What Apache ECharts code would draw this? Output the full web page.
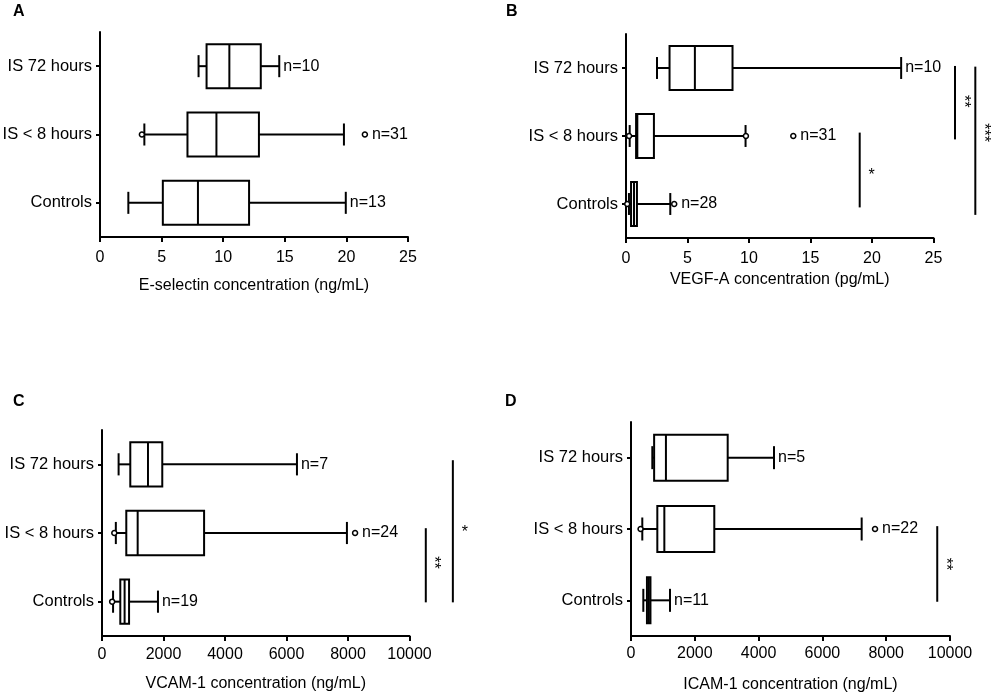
<!DOCTYPE html>
<html>
<head>
<meta charset="utf-8">
<title>Adhesion molecules box plots</title>
<script src="https://cdn.jsdelivr.net/npm/echarts@6/dist/echarts.min.js"></script>
<style>
html, body { margin: 0; padding: 0; background: #fff; }
#chart { width: 995px; height: 695px; }
</style>
</head>
<body>
<div id="chart"></div>
<script>
// categories, bottom to top
var categories = ['Controls', 'IS < 8 hours', 'IS 72 hours'];

// each box: [low whisker, Q1, median, Q3, high whisker], same order as categories
var eSelectinBoxes = [[2.3, 5.1, 7.95, 12.1, 19.95], [3.6, 7.1, 9.45, 12.9, 19.8], [8.0, 8.65, 10.5, 13.05, 14.55]];
var eSelectinOutliers = [[3.4, 1], [21.5, 1]];
var eSelectinN = [13, 31, 10];
var eSelectinTicks = [0, 5, 10, 15, 20, 25];

var vegfBoxes = [[0.24, 0.41, 0.65, 0.89, 3.6], [0.3, 0.82, 0.92, 2.27, 9.72], [2.52, 3.54, 5.6, 8.66, 22.37]];
var vegfOutliers = [[0.1, 0], [3.92, 0], [0.25, 1], [9.75, 1], [13.6, 1]];
var vegfN = [28, 31, 10];
var vegfTicks = [0, 5, 10, 15, 20, 25];
// significance bars: [x value, from category, to category, label at category]
var vegfSig = [[19.0, -0.05, 1.05, 0.48], [26.75, 0.95, 2.03, 1.51], [28.4, -0.16, 2.02, 1.05]];
var vegfSigText = ['*', '**', '***'];

var vcamBoxes = [[360, 595, 735, 880, 1820], [450, 790, 1160, 3320, 7965], [540, 920, 1495, 1960, 6340]];
var vcamOutliers = [[330, 0], [400, 1], [8230, 1]];
var vcamN = [19, 24, 7];
var vcamTicks = [0, 2000, 4000, 6000, 8000, 10000];
var vcamSig = [[10530, -0.01, 1.07, 0.57], [11410, -0.01, 2.06, 1.06]];
var vcamSigText = ['**', '*'];

var icamBoxes = [[386, 500, 560, 610, 1223], [354, 825, 1045, 2611, 7231], [668, 725, 1095, 3031, 4483]];
var icamOutliers = [[300, 1], [7650, 1]];
var icamN = [11, 22, 5];
var icamTicks = [0, 2000, 4000, 6000, 8000, 10000];
var icamSig = [[9600, -0.02, 1.04, 0.51]];
var icamSigText = ['**'];

var FONT = '"Liberation Sans", Arial, Helvetica, sans-serif';

var panels = [
    { letter: 'A', letterPos: [13, 4], grid: { left: 100, top: 32, width: 308, height: 205 },
      name: 'E-selectin concentration (ng/mL)', nameGap: 41, margin: 13,
      boxes: eSelectinBoxes, outliers: eSelectinOutliers, n: eSelectinN, ticks: eSelectinTicks, sig: [], sigText: [] },
    { letter: 'B', letterPos: [506, 4], grid: { left: 626, top: 34, width: 307.5, height: 204 },
      name: 'VEGF-A concentration (pg/mL)', nameGap: 34, margin: 13,
      boxes: vegfBoxes, outliers: vegfOutliers, n: vegfN, ticks: vegfTicks, sig: vegfSig, sigText: vegfSigText },
    { letter: 'C', letterPos: [13, 394], grid: { left: 102, top: 430, width: 307.5, height: 206 },
      name: 'VCAM-1 concentration (ng/mL)', nameGap: 40, margin: 10.5,
      boxes: vcamBoxes, outliers: vcamOutliers, n: vcamN, ticks: vcamTicks, sig: vcamSig, sigText: vcamSigText },
    { letter: 'D', letterPos: [505, 394], grid: { left: 631, top: 422, width: 319, height: 214 },
      name: 'ICAM-1 concentration (ng/mL)', nameGap: 41, margin: 10,
      boxes: icamBoxes, outliers: icamOutliers, n: icamN, ticks: icamTicks, sig: icamSig, sigText: icamSigText }
];

var LINE = { stroke: '#000', lineWidth: 2, fill: null };

//box, whiskers and n= label for one category
function boxRender(params, api) {
    var cat = api.value(0);
    var low = api.coord([api.value(1), cat]);
    var q1 = api.coord([api.value(2), cat]);
    var med = api.coord([api.value(3), cat]);
    var q3 = api.coord([api.value(4), cat]);
    var high = api.coord([api.value(5), cat]);
    var anchor = api.coord([api.value(6), cat]);
    var gap = api.value(6) > api.value(5) ? 7 : 4;
    var band = api.size([0, 1])[1];
    var h = band * 0.645;
    var cap = h / 2;
    var cy = low[1];
    return {
        type: 'group',
        children: [
            { type: 'line', shape: { x1: low[0], y1: cy, x2: q1[0], y2: cy }, style: LINE },
            { type: 'line', shape: { x1: q3[0], y1: cy, x2: high[0], y2: cy }, style: LINE },
            { type: 'rect', shape: { x: q1[0], y: cy - h / 2, width: q3[0] - q1[0], height: h },
              style: { stroke: '#000', lineWidth: 2, fill: '#fff' } },
            { type: 'line', shape: { x1: med[0], y1: cy - h / 2, x2: med[0], y2: cy + h / 2 }, style: LINE },
            { type: 'line', shape: { x1: low[0], y1: cy - cap / 2, x2: low[0], y2: cy + cap / 2 }, style: LINE },
            { type: 'line', shape: { x1: high[0], y1: cy - cap / 2, x2: high[0], y2: cy + cap / 2 }, style: LINE },
            { type: 'text', x: anchor[0] + gap, y: cy,
              style: { text: 'n=' + api.value(7), fill: '#000', font: '16px ' + FONT, align: 'left', verticalAlign: 'middle' } }
        ]
    };
}

function makeSigRender(texts) {
    return function (params, api) {
        var x = api.value(0);
        var c0 = api.coord([x, 0]);
        var c1 = api.coord([x, 1]);
        var step = c1[1] - c0[1];
        var y1 = c0[1] + api.value(1) * step;
        var y2 = c0[1] + api.value(2) * step;
        var yt = c0[1] + api.value(3) * step;
        var txt = texts[params.dataIndex];
        var rotated = txt.length > 1;
        return {
            type: 'group',
            children: [
                { type: 'line', shape: { x1: c0[0], y1: y1, x2: c0[0], y2: y2 }, style: LINE },
                { type: 'text', x: rotated ? c0[0] + 8 : c0[0] + 12, y: rotated ? yt : yt + 4,
                  rotation: rotated ? -Math.PI / 2 : 0,
                  style: { text: txt, fill: '#000', font: '16px ' + FONT, align: 'center', verticalAlign: 'middle' } }
            ]
        };
    };
}

var option = {
    animation: false,
    backgroundColor: '#fff',
    title: [],
    grid: [],
    xAxis: [],
    yAxis: [],
    series: []
};

panels.forEach(function (p, i) {
    option.title.push({
        text: p.letter, left: p.letterPos[0], top: p.letterPos[1], padding: 0,
        textStyle: { fontSize: 16, fontWeight: 'bold', color: '#000', fontFamily: FONT }
    });
    option.grid.push({
        left: p.grid.left, top: p.grid.top, width: p.grid.width, height: p.grid.height,
        outerBoundsMode: 'none'
    });
    option.xAxis.push({
        gridIndex: i,
        type: 'value',
        min: p.ticks[0],
        max: p.ticks[p.ticks.length - 1],
        interval: p.ticks[1] - p.ticks[0],
        splitLine: { show: false },
        axisLine: { show: true, lineStyle: { color: '#000', width: 2 } },
        axisTick: { show: true, length: 5, lineStyle: { color: '#000', width: 2 } },
        axisLabel: {
            color: '#000', fontSize: 16, fontFamily: FONT, margin: p.margin,
            formatter: function (v) { return String(v); }
        },
        name: p.name,
        nameLocation: 'middle',
        nameGap: p.nameGap,
        nameTextStyle: { color: '#000', fontSize: 16, fontFamily: FONT }
    });
    option.yAxis.push({
        gridIndex: i,
        type: 'category',
        data: categories,
        axisLine: { show: true, lineStyle: { color: '#000', width: 2 } },
        axisTick: { show: true, alignWithLabel: true, length: 4, lineStyle: { color: '#000', width: 2 } },
        axisLabel: { color: '#000', fontSize: 16.5, fontFamily: FONT, margin: 8 },
        splitLine: { show: false }
    });

    // box data: [category, low, q1, median, q3, high, label anchor, n]
    var boxData = p.boxes.map(function (b, c) {
        var anchor = b[4];
        p.outliers.forEach(function (o) {
            if (o[1] === c && o[0] > anchor) anchor = o[0];
        });
        return [c, b[0], b[1], b[2], b[3], b[4], anchor, p.n[c]];
    });
    option.series.push({
        type: 'custom',
        xAxisIndex: i,
        yAxisIndex: i,
        renderItem: boxRender,
        encode: { x: [1, 2, 3, 4, 5], y: 0 },
        clip: false,
        data: boxData,
        z: 2
    });
    option.series.push({
        type: 'scatter',
        xAxisIndex: i,
        yAxisIndex: i,
        symbol: 'circle',
        symbolSize: 5,
        itemStyle: { color: '#fff', borderColor: '#000', borderWidth: 1.5, opacity: 1 },
        data: p.outliers,
        z: 3
    });
    if (p.sig.length) {
        option.series.push({
            type: 'custom',
            xAxisIndex: i,
            yAxisIndex: i,
            renderItem: makeSigRender(p.sigText),
            encode: { x: 0 },
            clip: false,
            data: p.sig,
            z: 2
        });
    }
});

var myChart = echarts.init(document.getElementById('chart'));
myChart.setOption(option);
</script>
</body>
</html>
